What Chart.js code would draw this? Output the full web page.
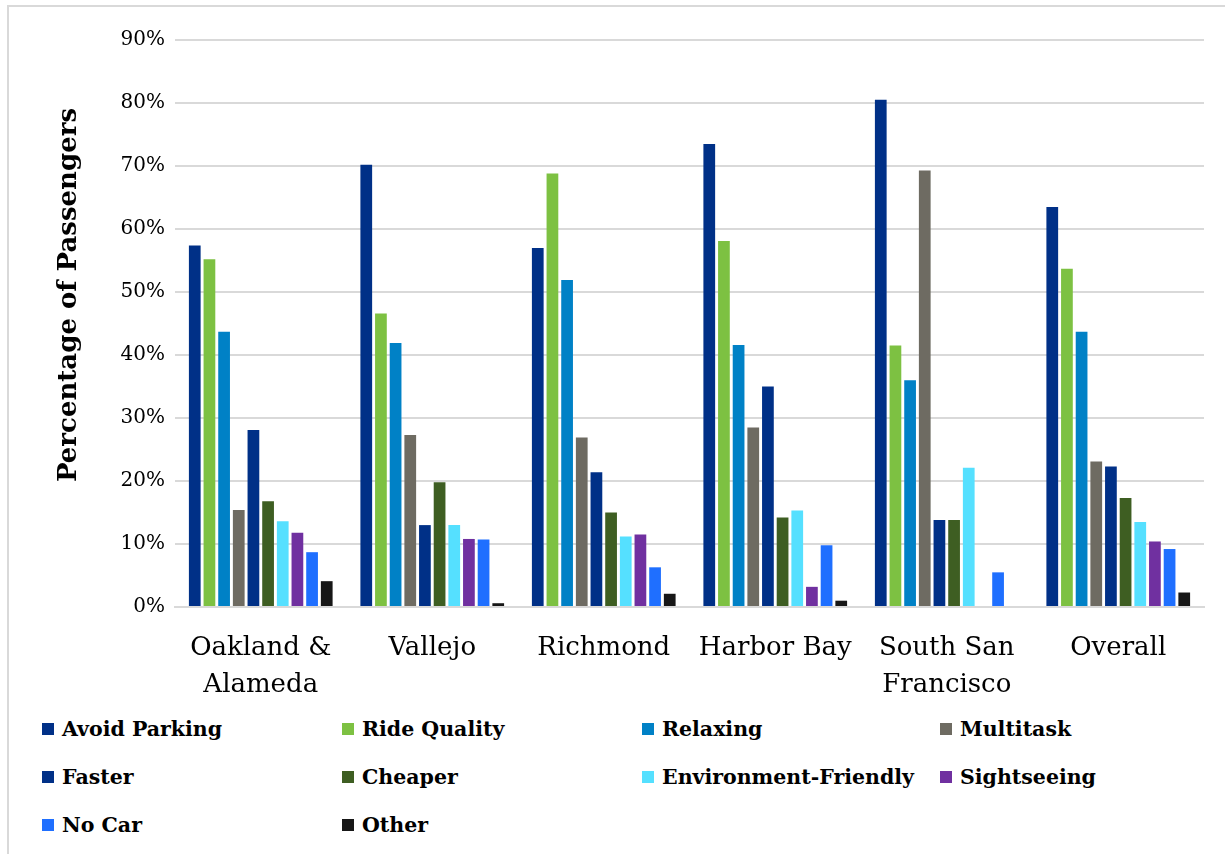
<!DOCTYPE html>
<html>
<head>
<meta charset="utf-8">
<script src="https://cdn.jsdelivr.net/npm/chart.js@4"></script>
<style>
  body { margin: 0; background: #fff; }
  #wrap { position: relative; width: 1225px; height: 854px; overflow: hidden; }
  #frame { position: absolute; left: 7px; top: 5px; width: 1240px; height: 900px;
           border-left: 2px solid #d9d9d9; border-top: 2px solid #d9d9d9; }
  #chart { position: absolute; left: 0; top: 0; }
  #legend { position: absolute; left: 42px; top: 714px; display: grid;
            grid-template-columns: 300px 300px 298px 300px; row-gap: 18px;
            font-family: "DejaVu Serif", serif; font-weight: bold; font-size: 20.5px; color: #000; }
  .item { display: flex; align-items: center; height: 30px; white-space: nowrap; }
  .box { width: 12px; height: 12px; margin-right: 8px; flex: none; }
</style>
</head>
<body>
<div id="wrap">
  <div id="frame"></div>
  <canvas id="chart" width="1225" height="705"></canvas>
  <div id="legend"></div>
</div>
<script>
const categories = [['Oakland &', 'Alameda'], 'Vallejo', 'Richmond', 'Harbor Bay', ['South San', 'Francisco'], 'Overall'];
const yTicks = [0, 10, 20, 30, 40, 50, 60, 70, 80, 90];
const yTitle = 'Percentage of Passengers';

// percentage of passengers per reason, one value per category
const avoidParking = [57.4, 70.2, 57.0, 73.5, 80.5, 63.5];
const rideQuality = [55.2, 46.6, 68.8, 58.1, 41.5, 53.7];
const relaxing = [43.7, 41.9, 51.9, 41.6, 36.0, 43.7];
const multitask = [15.4, 27.3, 26.9, 28.5, 69.3, 23.1];
const faster = [28.1, 13.0, 21.4, 35.0, 13.8, 22.3];
const cheaper = [16.8, 19.8, 15.0, 14.2, 13.8, 17.3];
const envFriendly = [13.6, 13.0, 11.2, 15.3, 22.1, 13.5];
const sightseeing = [11.8, 10.8, 11.5, 3.2, 0, 10.4];
const noCar = [8.7, 10.7, 6.3, 9.8, 5.5, 9.2];
const other = [4.1, 0.6, 2.1, 1.0, 0, 2.3];

const seriesNames = ['Avoid Parking', 'Ride Quality', 'Relaxing', 'Multitask', 'Faster',
  'Cheaper', 'Environment-Friendly', 'Sightseeing', 'No Car', 'Other'];
const seriesValues = [avoidParking, rideQuality, relaxing, multitask, faster,
  cheaper, envFriendly, sightseeing, noCar, other];
const seriesColors = ['#003087', '#7dc142', '#0081c6', '#6e6b62', '#003087',
  '#3e5e22', '#55e0ff', '#7030a0', '#1f6fff', '#171717'];

const datasets = seriesNames.map((name, i) => ({
  label: name,
  data: seriesValues[i],
  backgroundColor: seriesColors[i],
  borderWidth: 0,
  categoryPercentage: 0.855,
  barPercentage: 0.8
}));

// y title sits a bit above the plot's middle in the original, so draw it by hand
const yTitlePlugin = {
  id: 'yTitle',
  afterDraw(chart) {
    const ctx = chart.ctx;
    ctx.save();
    ctx.translate(69, 295);
    ctx.rotate(-Math.PI / 2);
    ctx.font = 'bold 26px "DejaVu Serif"';
    ctx.fillStyle = '#000';
    ctx.textAlign = 'center';
    ctx.textBaseline = 'middle';
    ctx.fillText(yTitle, 0, 0);
    ctx.restore();
  }
};

const chart = new Chart(document.getElementById('chart'), {
  type: 'bar',
  data: { labels: categories, datasets: datasets },
  options: {
    responsive: false,
    animation: false,
    layout: { padding: { left: 40, top: 40, right: 21, bottom: 0 } },
    plugins: {
      legend: { display: false },
      tooltip: { enabled: false }
    },
    scales: {
      x: {
        grid: { display: false, drawTicks: false },
        border: { color: '#d9d9d9', width: 2 },
        ticks: {
          color: '#000',
          padding: 22,
          font: { family: 'DejaVu Serif', size: 26, lineHeight: 1.45 }
        },
        afterFit: scale => { scale.height = 98; }
      },
      y: {
        min: 0,
        max: 90,
        afterBuildTicks: scale => { scale.ticks = yTicks.map(v => ({ value: v })); },
        grid: { color: '#d9d9d9', lineWidth: 2, drawTicks: false },
        border: { display: false },
        ticks: {
          color: '#000',
          padding: 10,
          font: { family: 'DejaVu Serif', size: 20 },
          callback: v => v + '%'
        },
        afterFit: scale => { scale.width = 135; }
      }
    }
  },
  plugins: [yTitlePlugin]
});

// legend laid out in four columns like the original
const legend = document.getElementById('legend');
chart.data.datasets.forEach(ds => {
  const item = document.createElement('div');
  item.className = 'item';
  const box = document.createElement('span');
  box.className = 'box';
  box.style.background = ds.backgroundColor;
  const text = document.createElement('span');
  text.textContent = ds.label;
  item.appendChild(box);
  item.appendChild(text);
  legend.appendChild(item);
});
</script>
</body>
</html>
